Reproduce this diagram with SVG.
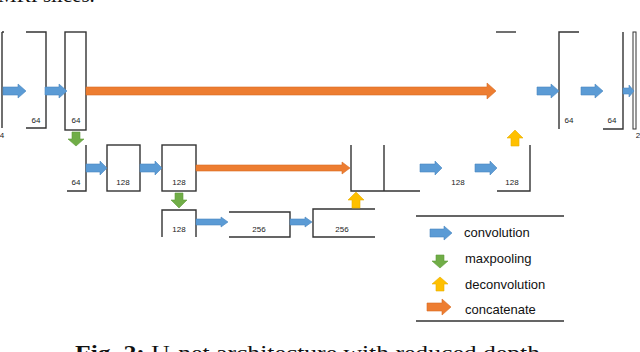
<svg xmlns="http://www.w3.org/2000/svg" width="640" height="352" viewBox="0 0 640 352">
<style>
.ln{fill:none;stroke:#333;stroke-width:1.4}
.lbl{font-family:"Liberation Sans",Arial,sans-serif;font-size:8px;fill:#222;text-anchor:middle}
.leg{font-family:"Liberation Sans",Arial,sans-serif;font-size:13px;fill:#111}
.cap{font-family:"Liberation Serif","Times New Roman",serif;font-size:21px;fill:#111}
.b{fill:#5B9BD5;stroke:#4A86C0;stroke-width:0.6}
.g{fill:#70AD47;stroke:#5E9A3A;stroke-width:0.6}
.y{fill:#FFC000;stroke:#E8AE00;stroke-width:0.6}
.o{fill:#ED7D31;stroke:#D96B22;stroke-width:0.6}
</style>
<rect width="640" height="352" fill="#fff"/>
<text class="cap" x="-2" y="2">MRI slices.</text>

<g id="n_top1">
<path class="ln" d="M2,32V128M2,32H4M26,32H46V128H26"/>
<text class="lbl" x="36" y="123">64</text>
<text class="lbl" x="2" y="138">4</text>
</g>
<g id="n_top2">
<rect class="ln" x="65" y="32" width="21" height="98"/>
<text class="lbl" x="76" y="123">64</text>
</g>
<g id="n_top3">
<path class="ln" d="M496,32H516"/>
</g>
<g id="n_top4">
<path class="ln" d="M579,32H559V129"/>
<text class="lbl" x="569" y="123">64</text>
</g>
<g id="n_top5">
<path class="ln" d="M623,32V129H603"/>
<text class="lbl" x="612" y="123">64</text>
</g>
<g id="n_top6">
<rect x="633" y="32" width="3" height="97" fill="none" stroke="#333" stroke-width="1"/>
<text class="lbl" x="638" y="138">2</text>
</g>

<g id="n_r2a">
<path class="ln" d="M86,145V191H67"/>
<text class="lbl" x="76" y="185">64</text>
</g>
<g id="n_r2b">
<rect class="ln" x="107" y="145" width="33" height="46"/>
<text class="lbl" x="123" y="185">128</text>
</g>
<g id="n_r2c">
<rect class="ln" x="162" y="145" width="34" height="46"/>
<text class="lbl" x="179" y="185">128</text>
</g>
<g id="n_r2d">
<path class="ln" d="M351,145V191H420M384,145V191"/>
</g>
<g id="n_r2e">
<text class="lbl" x="458" y="185">128</text>
</g>
<g id="n_r2f">
<path class="ln" d="M497,191H530V145"/>
<text class="lbl" x="512" y="185">128</text>
</g>

<g id="n_r3a">
<path class="ln" d="M162,237V210H196V237"/>
<text class="lbl" x="179" y="232">128</text>
</g>
<g id="n_r3b">
<path class="ln" d="M229,212H290V237H229"/>
<text class="lbl" x="259" y="232">256</text>
</g>
<g id="n_r3c">
<path class="ln" d="M375,209H313V237H375"/>
<text class="lbl" x="342" y="232">256</text>
</g>

<g id="connectors">
<polygon class="b" points="3,87 18,87 18,84 26,91 18,98 18,95 3,95"/>
<polygon class="b" points="45,87 59,87 59,84 67,91 59,98 59,95 45,95"/>
<polygon class="o" points="86,87 487,87 487,83 496,91 487,99 487,95 86,95"/>
<polygon class="b" points="537,87 551,87 551,84 559,91 551,98 551,95 537,95"/>
<polygon class="b" points="581,87 595,87 595,84 603,91 595,98 595,95 581,95"/>
<polygon class="b" points="623,88 629,88 629,85 634,91 629,97 629,94 623,94"/>

<polygon class="g" points="72,132 80,132 80,139 84,139 76,146 68,139 72,139"/>
<polygon class="y" points="515,130 523,138 519,138 519,146 511,146 511,138 507,138"/>

<polygon class="b" points="86,164 100,164 100,161 107,168 100,175 100,172 86,172"/>
<polygon class="b" points="140,164 155,164 155,161 162,168 155,175 155,172 140,172"/>
<polygon class="o" points="196,165 342,165 342,162 350,168 342,174 342,171 196,171"/>
<polygon class="b" points="420,164 435,164 435,161 442,168 435,175 435,172 420,172"/>
<polygon class="b" points="475,164 490,164 490,161 497,168 490,175 490,172 475,172"/>

<polygon class="g" points="175,193 183,193 183,200 187,200 179,208 171,200 175,200"/>
<polygon class="y" points="356,192 364,200 360,200 360,208 352,208 352,200 348,200"/>

<polygon class="b" points="196,219 221,219 221,217 228,222 221,227 221,225 196,225"/>
<polygon class="b" points="290,219 305,219 305,217 312,222 305,227 305,225 290,225"/>
</g>

<g id="legend">
<path class="ln" d="M416,216H564M416,321H564"/>
<polygon class="b" points="430,229 444,229 444,226 452,233 444,240 444,237 430,237"/>
<text class="leg" x="464" y="237">convolution</text>
<polygon class="g" points="436,255 444,255 444,261 448,261 440,268 432,261 436,261"/>
<text class="leg" x="465" y="263">maxpooling</text>
<polygon class="y" points="440,277 448,284 444,284 444,291 436,291 436,284 432,284"/>
<text class="leg" x="465" y="289">deconvolution</text>
<polygon class="o" points="427,303 442,303 442,299 451,307 442,315 442,311 427,311"/>
<text class="leg" x="465" y="314">concatenate</text>
</g>

<text class="cap" x="75" y="360" textLength="465" lengthAdjust="spacingAndGlyphs"><tspan font-weight="bold">Fig. 2:</tspan> U-net architecture with reduced depth</text>
</svg>
